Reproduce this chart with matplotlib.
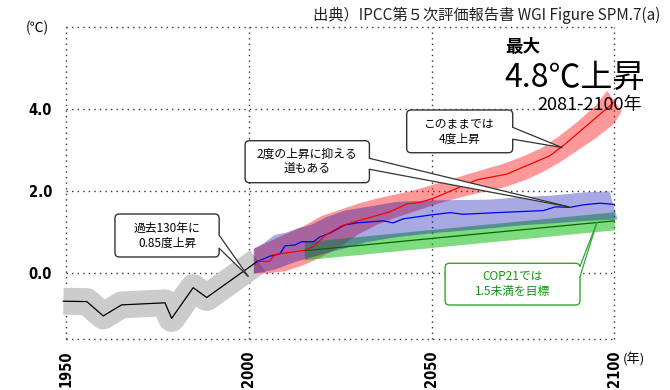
import matplotlib
matplotlib.use('Agg')
import matplotlib.pyplot as plt
from matplotlib.patches import FancyBboxPatch, Polygon
import numpy as np

plt.rcParams['font.family'] = ['Noto Sans CJK JP', 'DejaVu Sans']

# ---------------- data ----------------
hist_years = [1949.3, 1955.7, 1960.2, 1965.2, 1977.1, 1978.9, 1984.8, 1988.5, 2002.5]
hist_vals = [-0.68, -0.69, -1.04, -0.77, -0.72, -1.10, -0.35, -0.59, 0.30]

red_years = [2002.5, 2005.6, 2007.2, 2015.2, 2017.6, 2021.3, 2025.5, 2028.6, 2033.5,
             2038.6, 2043.2, 2046.9, 2050.5, 2056.9, 2062.4, 2070.6, 2082.4, 2086.1, 2100.0]
red_vals = [0.29, 0.29, 0.46, 0.56, 0.65, 0.95, 1.16, 1.25, 1.37,
            1.50, 1.69, 1.73, 1.83, 2.07, 2.28, 2.42, 2.87, 3.12, 4.18]

red_up_years = [2001.5, 2005, 2010, 2015, 2020, 2025, 2030, 2035, 2040, 2045, 2050,
                2055, 2060, 2065, 2070, 2075, 2080, 2085, 2090, 2095, 2098.0, 2102.0]
red_up = [0.60, 0.75, 0.95, 1.15, 1.40, 1.55, 1.70, 1.82, 1.92, 2.02, 2.15,
          2.28, 2.42, 2.55, 2.68, 2.85, 3.05, 3.35, 3.70, 4.10, 4.45, 3.95]
red_lo_years = [2001.5, 2005, 2010, 2015, 2020, 2025, 2030, 2035, 2040, 2045, 2050,
                2055, 2060, 2065, 2070, 2075, 2080, 2085, 2090, 2095, 2100, 2102.0]
red_lo = [0.00, 0.00, 0.05, 0.20, 0.40, 0.65, 0.95, 1.18, 1.35, 1.50, 1.65,
          1.78, 1.90, 2.00, 2.10, 2.25, 2.45, 2.70, 3.00, 3.30, 3.65, 3.95]

blue_years = [2002.5, 2005.8, 2008.5, 2009.9, 2012.6, 2014.5, 2017.7, 2019.5, 2022.2,
              2026.3, 2029.5, 2036.8, 2039.5, 2042.3, 2049.6, 2055.1, 2058.7, 2067.8,
              2080.6, 2083.8, 2087.9, 2091.5, 2096.1, 2100.0]
blue_vals = [0.29, 0.42, 0.47, 0.67, 0.69, 0.77, 0.77, 0.89, 0.98,
             1.18, 1.23, 1.28, 1.23, 1.33, 1.42, 1.48, 1.44, 1.48,
             1.53, 1.62, 1.61, 1.67, 1.71, 1.68]

blue_band_years = [2001.2, 2004, 2007, 2010, 2013, 2017, 2021, 2026, 2032, 2040,
                   2049, 2058, 2066, 2074, 2083, 2092, 2098.5, 2100.6]
blue_up = [0.61, 0.75, 0.95, 1.00, 1.10, 1.20, 1.38, 1.54, 1.63, 1.75,
           1.79, 1.80, 1.81, 1.87, 1.91, 1.99, 2.01, 1.38]
blue_lo = [0.00, 0.05, 0.10, 0.20, 0.30, 0.40, 0.50, 0.62, 0.77, 0.89,
           0.98, 1.05, 1.11, 1.18, 1.23, 1.29, 1.32, 1.32]

green_years = [2015.2, 2100.0]
green_vals = [0.55, 1.28]
green_lo = [0.33, 1.06]
green_up = [0.77, 1.50]

xticks = [1950, 2000, 2050, 2100]
yticks = [0, 2, 4]
ytick_labels = ['0.0', '2.0', '4.0']
grid_y = [-1.6, 0, 2, 4, 6]

# ---------------- figure ----------------
fig = plt.figure(figsize=(6.7, 3.9), dpi=100)
ax = fig.add_axes([0.0930, 0.1205, 0.8403, 0.8200])
ax.set_xlim(1949, 2103)
ax.set_ylim(-1.7, 6.1)
for s in ax.spines.values():
    s.set_visible(False)

dot = (0, (1, 3))
ax.hlines(grid_y, 1950, 2100, colors='#333333', linestyles=dot, lw=1.0, zorder=0)
ax.vlines(xticks, -1.6, 6, colors='#333333', linestyles=dot, lw=1.0, zorder=0)

# bands
ax.plot(hist_years, hist_vals, color='#cccccc', lw=19.4, solid_capstyle='butt',
        solid_joinstyle='round', zorder=1)
ax.fill(np.concatenate([red_up_years, red_lo_years[::-1]]),
        np.concatenate([red_up, red_lo[::-1]]), color=(1, 0, 0), alpha=0.4, lw=0, zorder=2)
ax.fill_between(green_years, green_lo, green_up, color=(0, 0.72, 0), alpha=0.5, lw=0, zorder=3)
ax.fill_between(blue_band_years, blue_lo, blue_up, color=(0, 0, 0.68), alpha=0.34, lw=0, zorder=4)

# lines
ax.plot(hist_years, hist_vals, color='black', lw=0.9, zorder=5)
ax.plot(green_years, green_vals, color='#006a00', lw=0.9, zorder=5)
ax.plot(blue_years, blue_vals, color='#0000ee', lw=0.9, zorder=5)
ax.plot(red_years, red_vals, color='#ff0000', lw=0.9, zorder=6)

# ticks
tick_font = dict(family=['Liberation Sans Narrow', 'DejaVu Sans'], stretch='condensed',
                 weight='bold', size=10.5)
ax.set_xticks(xticks)
ax.set_xticklabels([str(v) for v in xticks], rotation=90, **tick_font)
ax.set_yticks(yticks)
ax.set_yticklabels(ytick_labels, **tick_font)
ax.tick_params(axis='both', length=0)
ax.tick_params(axis='y', pad=7.4)
ax.tick_params(axis='x', pad=5.5)

asp = (3.655 / 41.0)


def callout(x0, x1, y0, y1, text, b1, b2, tip, ec='#333333', tc='black'):
    box = FancyBboxPatch((x0, y0), x1 - x0, y1 - y0,
                         boxstyle='round,pad=0,rounding_size=1.2',
                         mutation_aspect=asp, fc='white', ec=ec, lw=1.0, zorder=8)
    ax.add_patch(box)
    cx = (b1[0] + b2[0]) / 2
    inner1 = (b1[0] - 0.5 * np.sign(tip[0] - cx), b1[1])
    inner2 = (b2[0] - 0.5 * np.sign(tip[0] - cx), b2[1])
    ax.add_patch(Polygon([inner1, b1, tip, b2, inner2], closed=True, fc='white',
                         ec='none', zorder=9))
    ax.plot([b1[0], tip[0]], [b1[1], tip[1]], color=ec, lw=0.9, zorder=10)
    ax.plot([b2[0], tip[0]], [b2[1], tip[1]], color=ec, lw=0.9, zorder=10)
    ax.text((x0 + x1) / 2, (y0 + y1) / 2, text, ha='center', va='center',
            fontsize=8.5, color=tc, linespacing=1.2, zorder=11)


callout(1963.4, 1991.9, 0.398, 1.446, '過去130年に\n0.85度上昇',
        (1991.9, 0.93), (1991.9, 0.61), (1999.8, -0.07))
callout(1999.0, 2033.0, 2.210, 3.234, '2度の上昇に抑える\n道もある',
        (2033.0, 2.805), (2033.0, 2.537), (2087.4, 1.624))
callout(2043.2, 2072.2, 2.941, 3.983, 'このままでは\n4度上昇',
        (2072.2, 3.56), (2072.2, 3.27), (2085.6, 3.07))
callout(2053.7, 2090.6, -0.773, 0.244, 'COP21では\n1.5未満を目標',
        (2090.6, 0.17), (2090.6, -0.08), (2095.2, 1.23), ec='#2ea82e', tc='#129612')

# texts
W, H = 670.0, 390.0
def fx(x):
    return x / W
def fy(y):
    return 1 - y / H

fig.text(fx(660), fy(15), '出典）IPCC第５次評価報告書 WGI Figure SPM.7(a)',
         ha='right', va='center', fontsize=11, color='#222222')
fig.text(fx(37), fy(28), '(℃)', ha='center', va='center', fontsize=10)
fig.text(fx(634), fy(360), '(年)', ha='center', va='center', fontsize=9.5)
fig.text(fx(505), fy(47), '最大', ha='left', va='center', fontsize=12.6, weight='bold')
fig.text(fx(645), fy(87), '4.8℃上昇', ha='right', va='baseline', fontsize=23)
fig.text(fx(642), fy(110), '2081-2100年', ha='right', va='baseline', fontsize=13)

fig.savefig('out.png', dpi=100)
